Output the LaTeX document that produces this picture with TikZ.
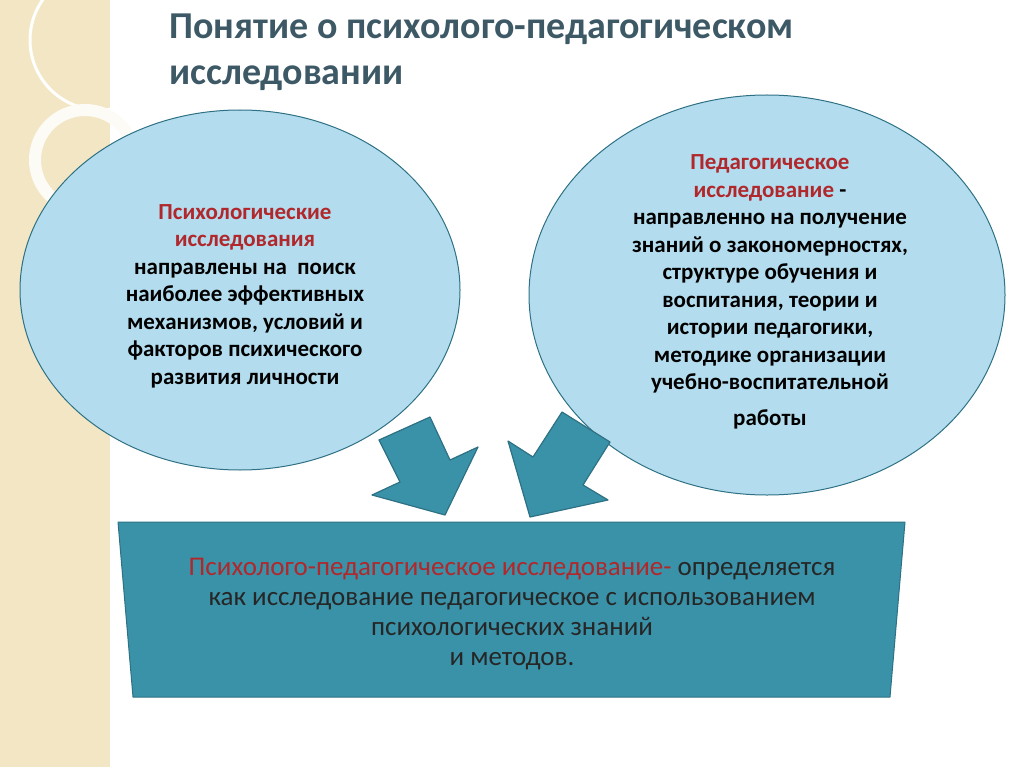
\documentclass[tikz,border=0pt]{standalone}
\usepackage{fontspec}
\setmainfont{Carlito}
\usetikzlibrary{positioning}
\definecolor{tealbox}{HTML}{3A92A8}
\definecolor{tealdark}{HTML}{2E7184}
\definecolor{skyfill}{HTML}{B3DDEE}
\definecolor{titlecol}{HTML}{3D5966}
\definecolor{redtxt}{HTML}{B0282C}
\definecolor{beige}{HTML}{F2E6C4}
\tikzset{
  oval/.style={draw=tealdark, fill=skyfill, line width=1pt},
  bigarrow/.style={draw=tealdark, fill=tealbox, line width=1.2pt, line join=round},
  ovaltext/.style={align=center, font=\fontsize{23}{27.5}\selectfont\bfseries, text=black},
}
\begin{document}
\begin{tikzpicture}[x=1pt,y=-1pt]
\useasboundingbox (0,0) rectangle (1024,767);
% decoration strip
\fill[beige] (0,0) rectangle (110,767);
\draw[white, line width=3pt] (100,40) circle (70);
\draw[white!85!beige, line width=12pt] (85,160) circle (50);
% title
\node (title) [anchor=north west, align=left, text=titlecol,
  font=\fontsize{38}{46}\selectfont\bfseries] at (166,10)
  {Понятие о психолого-педагогическом\\исследовании};
% ovals
\draw[oval] (240,290) ellipse (220 and 180);
\draw[oval] (767,295) ellipse (238 and 200);
\node (psy) [ovaltext] at (245,296) {\textcolor{redtxt}{Психологические}\\\textcolor{redtxt}{исследования}\\направлены на~ поиск\\наиболее эффективных\\механизмов, условий и\\факторов психического\\развития личности};
\node (ped) [ovaltext] at (770,292) {\textcolor{redtxt}{Педагогическое}\\\textcolor{redtxt}{исследование} -\\направленно на получение\\знаний о закономерностях,\\структуре обучения и\\воспитания, теории и\\истории педагогики,\\методике организации\\учебно-воспитательной\\[8pt]работы};
% arrows
\draw[bigarrow] (379,440) -- (430,417) -- (450,460) -- (478,447) -- (445,515) -- (372,495) -- (400,482) -- cycle;
\draw[bigarrow] (508,441) -- (533,457) -- (562,412) -- (610,442) -- (583,485) -- (608,500) -- (530,517) -- cycle;
% bottom box
\draw[bigarrow, line width=1pt] (118,522) -- (905,522) -- (890,697) -- (133,697) -- cycle;
\node (def) [align=center, text=black!85, font=\fontsize{27}{30}\selectfont] at (512,614)
  {\textcolor{redtxt}{Психолого-педагогическое исследование-} определяется\\как исследование педагогическое с использованием\\психологических знаний\\и методов.};
\end{tikzpicture}
\end{document}
